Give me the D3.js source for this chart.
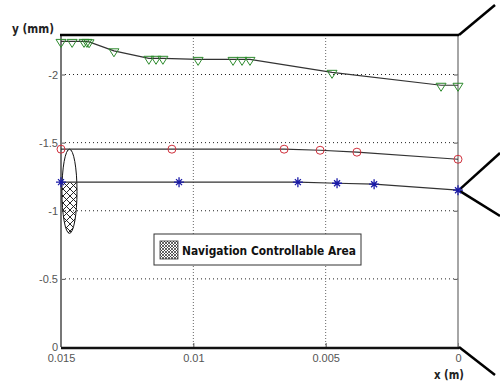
<!DOCTYPE html>
<html>
<head>
<meta charset="utf-8">
<script src="https://cdn.jsdelivr.net/npm/d3@7"></script>
<style>
body { margin: 0; background: #fff; }
.chart { width: 500px; height: 387px; }
.tick text { font-family: Arial, "Liberation Sans", sans-serif; font-size: 11px; fill: #555; }
</style>
</head>
<body>
<div class="chart"></div>
<script>
// data: x in m, y in mm
const greenX = [0.0150, 0.01458, 0.01413, 0.01402, 0.01394, 0.0130, 0.01168, 0.01141, 0.01115, 0.00982, 0.0085, 0.00816, 0.00786, 0.00476, 0.00064, 0];
const greenY = [-2.243, -2.243, -2.243, -2.243, -2.240, -2.174, -2.119, -2.119, -2.119, -2.111, -2.111, -2.111, -2.111, -2.016, -1.921, -1.921];

const redX = [0.015, 0.01081, 0.00657, 0.00521, 0.00382, 0];
const redY = [-1.452, -1.452, -1.452, -1.444, -1.430, -1.378];

const blueX = [0.015, 0.01054, 0.00605, 0.00457, 0.00317, 0];
const blueY = [-1.210, -1.210, -1.210, -1.202, -1.195, -1.151];

const xTicks = [0.015, 0.01, 0.005, 0];
const yTicks = [0, -0.5, -1, -1.5, -2];

// ellipse of the controllable area (centre, radii) in data units
const areaCenter = [0.01468, -1.143];
const areaRadius = [0.000285, 0.309];
const legendLabel = 'Navigation Controllable Area';

const width = d3.select('.chart').node().clientWidth;
const height = d3.select('.chart').node().clientHeight;
const c = d3.select('.chart')
	.append('svg')
	.attr('width', width)
	.attr('height', height);

const pLeft = 61, pRight = 458, pTop = 35, pBottom = 347;

const x = d3.scaleLinear().domain([0.015, 0]).range([pLeft, pRight]);
const y = d3.scaleLinear().domain([0, -2.29]).range([pBottom, pTop]);

// hatch patterns
const defs = c.append('defs');
const hatch = defs.append('pattern')
	.attr('id', 'hatch')
	.attr('patternUnits', 'userSpaceOnUse')
	.attr('width', 7)
	.attr('height', 7);
hatch.append('path').attr('d', 'M0,0L7,7M7,0L0,7').attr('stroke', '#111').attr('stroke-width', 0.9);

const hatchSmall = defs.append('pattern')
	.attr('id', 'hatchSmall')
	.attr('patternUnits', 'userSpaceOnUse')
	.attr('width', 3)
	.attr('height', 3);
hatchSmall.append('path').attr('d', 'M0,0L3,3M3,0L0,3').attr('stroke', '#222').attr('stroke-width', 0.7);

defs.append('clipPath').attr('id', 'lowerHalf')
	.append('rect')
	.attr('x', pLeft - 5)
	.attr('y', y(blueY[0]))
	.attr('width', 40)
	.attr('height', 100);

// grid lines
c.selectAll('.hgrid')
	.data(yTicks.filter(d => d !== 0))
	.enter().append('line')
	.attr('x1', pLeft).attr('x2', pRight)
	.attr('y1', d => y(d)).attr('y2', d => y(d))
	.style('stroke', '#222')
	.style('stroke-width', '1px')
	.style('stroke-dasharray', '1,3');

c.selectAll('.vgrid')
	.data([0.01, 0.005])
	.enter().append('line')
	.attr('x1', d => x(d)).attr('x2', d => x(d))
	.attr('y1', pTop).attr('y2', pBottom)
	.style('stroke', '#666')
	.style('stroke-width', '1px')
	.style('stroke-dasharray', '1,2');

// axes
const yAxis = d3.axisLeft(y).tickValues(yTicks).tickFormat(d => String(d)).tickSizeInner(-4).tickSizeOuter(0).tickPadding(3);
c.append('g').attr('transform', `translate(${pLeft},0)`).call(yAxis)
	.call(g => g.select('.domain').remove())
	.call(g => g.selectAll('.tick line').attr('stroke', '#555'));

const yAxisR = d3.axisRight(y).tickValues(yTicks).tickFormat('').tickSizeInner(-4).tickSizeOuter(0);
c.append('g').attr('transform', `translate(${pRight},0)`).call(yAxisR)
	.call(g => g.select('.domain').remove())
	.call(g => g.selectAll('.tick line').attr('stroke', '#555'));

const xAxis = d3.axisBottom(x).tickValues(xTicks).tickFormat(d => String(d)).tickSizeInner(-4).tickSizeOuter(0).tickPadding(7);
c.append('g').attr('transform', `translate(0,${pBottom})`).call(xAxis)
	.call(g => g.select('.domain').remove())
	.call(g => g.selectAll('.tick line').attr('stroke', '#555'));

// frame
c.append('line').attr('x1', pLeft).attr('x2', pLeft).attr('y1', pTop).attr('y2', pBottom)
	.style('stroke', '#777').style('stroke-width', '2px');
c.append('line').attr('x1', pRight).attr('x2', pRight).attr('y1', pTop).attr('y2', pBottom)
	.style('stroke', '#888').style('stroke-width', '1.5px');
c.append('line').attr('x1', pLeft).attr('x2', pRight + 1).attr('y1', pBottom + 1).attr('y2', pBottom + 1)
	.style('stroke', '#111').style('stroke-width', '2.5px');
c.append('line').attr('x1', pLeft - 1).attr('x2', pRight + 1).attr('y1', pTop).attr('y2', pTop)
	.style('stroke', '#000').style('stroke-width', '2.5px');

// perspective lines leaving the right edge
const guides = [
	[pRight + 1, pTop, 495, 5],
	[pRight + 2, y(blueY[5]) - 1, 500, 153],
	[pRight + 2, y(blueY[5]) + 1, 500, 216],
	[pRight + 1, pBottom, 495, 375]
];
c.selectAll('.guide')
	.data(guides)
	.enter().append('line')
	.attr('x1', d => d[0]).attr('y1', d => d[1])
	.attr('x2', d => d[2]).attr('y2', d => d[3])
	.style('stroke', '#000')
	.style('stroke-width', '2.5px');

// controllable area ellipse
c.append('ellipse')
	.attr('cx', x(areaCenter[0]))
	.attr('cy', y(areaCenter[1]))
	.attr('rx', x(areaCenter[0] - areaRadius[0]) - x(areaCenter[0]))
	.attr('ry', y(areaCenter[1]) - y(areaCenter[1] - areaRadius[1]))
	.attr('clip-path', 'url(#lowerHalf)')
	.style('fill', 'url(#hatch)');
c.append('ellipse')
	.attr('cx', x(areaCenter[0]))
	.attr('cy', y(areaCenter[1]))
	.attr('rx', x(areaCenter[0] - areaRadius[0]) - x(areaCenter[0]))
	.attr('ry', y(areaCenter[1]) - y(areaCenter[1] - areaRadius[1]))
	.style('fill', 'none')
	.style('stroke', '#111')
	.style('stroke-width', '1px');

// series lines
const line = d3.line().x(d => x(d[0])).y(d => y(d[1]));
const series = [
	{ xs: greenX, ys: greenY },
	{ xs: redX, ys: redY },
	{ xs: blueX, ys: blueY }
];
series.forEach(s => {
	c.append('path')
		.datum(s.xs.map((v, i) => [v, s.ys[i]]))
		.attr('d', line)
		.style('fill', 'none')
		.style('stroke', '#333')
		.style('stroke-width', '1.2px');
});

// markers
c.selectAll('.tri')
	.data(greenX.map((v, i) => [v, greenY[i]]))
	.enter().append('path')
	.attr('transform', d => `translate(${x(d[0])},${y(d[1]) + 1})`)
	.attr('d', 'M-5,-3L5,-3L0,5Z')
	.style('fill', 'none')
	.style('stroke', '#2e8b2e')
	.style('stroke-width', '1px');

c.selectAll('.circ')
	.data(redX.map((v, i) => [v, redY[i]]))
	.enter().append('circle')
	.attr('cx', d => x(d[0]))
	.attr('cy', d => y(d[1]))
	.attr('r', 4)
	.style('fill', 'none')
	.style('stroke', '#d0303c')
	.style('stroke-width', '1px');

c.selectAll('.star')
	.data(blueX.map((v, i) => [v, blueY[i]]))
	.enter().append('path')
	.attr('transform', d => `translate(${x(d[0])},${y(d[1])})`)
	.attr('d', 'M-5,0L5,0M0,-5L0,5M-3,-3L3,3M-3,3L3,-3')
	.style('stroke', '#1a1aa8')
	.style('stroke-width', '1.3px');

// legend box
const lg = c.append('g').attr('transform', 'translate(154,234)');
lg.append('rect')
	.attr('width', 207).attr('height', 31)
	.style('fill', '#fff')
	.style('stroke', '#333')
	.style('stroke-width', '1px');
lg.append('rect')
	.attr('x', 6).attr('y', 7).attr('width', 18).attr('height', 18)
	.style('fill', 'url(#hatchSmall)')
	.style('stroke', '#333')
	.style('stroke-width', '0.8px');
lg.append('text')
	.attr('x', 28).attr('y', 21)
	.text(legendLabel)
	.attr('font-family', 'Tahoma, "DejaVu Sans", sans-serif')
	.attr('font-weight', 'bold')
	.attr('font-size', '12px')
	.attr('textLength', 174)
	.attr('lengthAdjust', 'spacingAndGlyphs')
	.attr('fill', '#111');

// axis titles
c.append('text')
	.attr('x', 12).attr('y', 33)
	.text('y (mm)')
	.attr('font-family', 'Tahoma, "DejaVu Sans", sans-serif')
	.attr('font-weight', 'bold')
	.attr('font-size', '12px')
	.attr('textLength', 42)
	.attr('lengthAdjust', 'spacingAndGlyphs')
	.attr('fill', '#222');
c.append('text')
	.attr('x', 434).attr('y', 379)
	.text('x (m)')
	.attr('font-family', 'Tahoma, "DejaVu Sans", sans-serif')
	.attr('font-weight', 'bold')
	.attr('font-size', '12px')
	.attr('textLength', 30)
	.attr('lengthAdjust', 'spacingAndGlyphs')
	.attr('fill', '#222');
</script>
</body>
</html>
